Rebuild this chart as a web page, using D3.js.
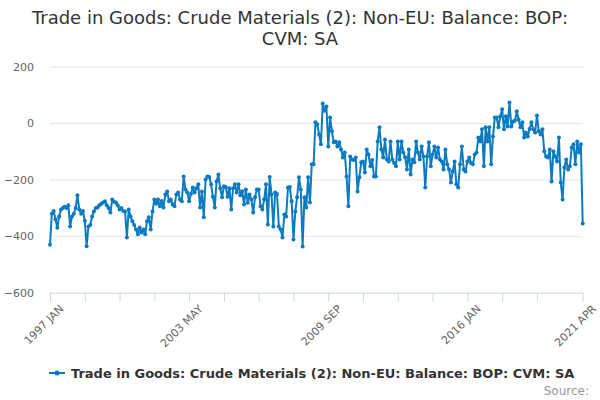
<!DOCTYPE html>
<html>
<head>
<meta charset="utf-8">
<script src="https://cdn.jsdelivr.net/npm/d3@7"></script>
<style>
  body { margin: 0; background: #fff; }
  svg { font-family: "DejaVu Sans", sans-serif; }
</style>
</head>
<body>
<div id="chart"></div>
<script>
// monthly values, 1997 JAN .. 2021 APR
const monthNames = ["JAN","FEB","MAR","APR","MAY","JUN","JUL","AUG","SEP","OCT","NOV","DEC"];
const startYear = 1997;
const values = [
  // 1997
  -430, -320, -310, -340, -370, -330, -305, -300, -295, -300, -290, -365,
  // 1998
  -330, -320, -300, -255, -305, -320, -310, -345, -435, -365, -360, -330,
  // 1999
  -312, -300, -298, -290, -285, -280, -276, -290, -300, -316, -270, -278,
  // 2000
  -280, -290, -305, -300, -310, -312, -404, -305, -330, -347, -360, -376,
  // 2001
  -393, -369, -387, -376, -393, -347, -333, -376, -312, -270, -285, -270,
  // 2002
  -294, -275, -298, -252, -241, -276, -270, -287, -294, -252, -245, -270,
  // 2003
  -276, -188, -234, -245, -276, -250, -227, -245, -230, -216, -298, -241,
  // 2004
  -333, -199, -188, -190, -216, -260, -298, -206, -181, -230, -262, -223,
  // 2005
  -225, -260, -230, -305, -230, -216, -245, -216, -255, -240, -287, -234,
  // 2006
  -281, -252, -270, -316, -262, -234, -234, -294, -305, -270, -216, -358,
  // 2007
  -190, -252, -365, -245, -250, -365, -376, -404, -323, -330, -227, -225,
  // 2008
  -276, -411, -312, -262, -191, -234, -436, -262, -298, -191, -280, -145,
  // 2009
  -145, 4, -4, -39, -74, 71, 45, 60, -82, 21, -28, -67,
  // 2010
  -64, -82, -67, -92, -121, -103, -188, -294, -117, -128, -130, -121,
  // 2011
  -241, -191, -138, -135, -174, -92, -110, -152, -130, -188, -188, -64,
  // 2012
  -14, -92, -121, -57, -128, -135, -64, -128, -140, -152, -64, -128,
  // 2013
  -64, -103, -120, -163, -92, -181, -128, -138, -64, -103, -128, -82,
  // 2014
  -117, -227, -117, -67, -152, -110, -82, -121, -85, -128, -135, -163,
  // 2015
  -92, -145, -163, -209, -170, -135, -216, -227, -145, -82, -163, -170,
  // 2016
  -135, -121, -140, -145, -110, -103, -50, -64, -21, -152, -14, -64,
  // 2017
  -14, -145, -46, 21, 21, -14, 25, 50, -21, 25, -11, 74,
  // 2018
  -11, 7, 10, 43, 14, -14, 4, -50, -32, -46, -20, 4,
  // 2019
  -21, -32, 28, -28, -39, -21, -99, -117, -121, -92, -206, -99,
  // 2020
  -117, -135, -50, -209, -270, -156, -128, -163, -152, -85, -74, -145,
  // 2021
  -64, -103, -74, -355
];
const yTicks = [200, 0, -200, -400, -600];
const seriesName = "Trade in Goods: Crude Materials (2): Non-EU: Balance: BOP: CVM: SA";
const titleLines = ["Trade in Goods: Crude Materials (2): Non-EU: Balance: BOP:", "CVM: SA"];

// label for month index
function monthLabel(i) {
  return (startYear + Math.floor(i / 12)) + " " + monthNames[i % 12];
}

const width = 600;
const height = 400;
const plotLeft = 50, plotRight = 582.7, plotTop = 67, plotBottom = 292.7;
const lineColour = "#0b7bc1";

const svg = d3.select("#chart").append("svg")
  .attr("width", width)
  .attr("height", height);

const x = d3.scaleLinear().domain([0, values.length - 1]).range([plotLeft, plotRight]);
const y = d3.scaleLinear().domain([-600, 200]).range([plotBottom, plotTop]);

// title
svg.append("text")
  .attr("x", width / 2)
  .attr("y", 24)
  .attr("text-anchor", "middle")
  .attr("font-size", "18px")
  .attr("fill", "#333")
  .selectAll("tspan")
  .data(titleLines)
  .enter().append("tspan")
  .attr("x", width / 2)
  .attr("dy", (d, i) => i === 0 ? 0 : 21)
  .text(d => d);

// grid lines
svg.append("g")
  .selectAll("line")
  .data(yTicks.filter(d => d !== -600))
  .enter().append("line")
  .attr("x1", plotLeft)
  .attr("x2", plotRight)
  .attr("y1", d => y(d))
  .attr("y2", d => y(d))
  .attr("stroke", "#e6e6e6")
  .attr("stroke-width", 1);

// y axis labels
const yAxis = svg.append("g")
  .attr("transform", `translate(${plotLeft},0)`)
  .call(d3.axisLeft(y).tickValues(yTicks).tickSize(0).tickPadding(16));
yAxis.select(".domain").remove();
yAxis.selectAll("text")
  .attr("font-family", "DejaVu Sans, sans-serif")
  .attr("font-size", "11px")
  .attr("fill", "#666");

// x axis: ticks every 19 months, label every 4th tick and the last month
const last = values.length - 1;
const xTickVals = d3.range(0, last - 10, 19).concat([last]);
const xLabelVals = xTickVals.filter((d, i) => i % 4 === 0 || d === last);
const xAxis = svg.append("g")
  .attr("transform", `translate(0,${plotBottom})`)
  .call(d3.axisBottom(x).tickValues(xTickVals).tickSize(9)
    .tickFormat(d => xLabelVals.includes(d) ? monthLabel(d) : ""));
xAxis.select(".domain")
  .attr("stroke", "#ccd6eb")
  .attr("d", `M${plotLeft},0.5H${plotRight}`);
xAxis.selectAll(".tick line").attr("stroke", "#ccd6eb");
xAxis.selectAll("text")
  .attr("font-family", "DejaVu Sans, sans-serif")
  .attr("font-size", "11px")
  .attr("fill", "#666")
  .attr("text-anchor", "end")
  .attr("dy", "0.3em")
  .attr("transform", "translate(3,6) rotate(-45)");

// line
const line = d3.line()
  .x((d, i) => x(i))
  .y(d => y(d));

svg.append("path")
  .datum(values)
  .attr("fill", "none")
  .attr("stroke", lineColour)
  .attr("stroke-width", 2)
  .attr("stroke-linejoin", "round")
  .attr("d", line);

svg.append("g")
  .selectAll("circle")
  .data(values)
  .enter().append("circle")
  .attr("cx", (d, i) => x(i))
  .attr("cy", d => y(d))
  .attr("r", 2)
  .attr("fill", lineColour);

// legend
const legend = svg.append("g").attr("transform", "translate(0,373)");
legend.append("line")
  .attr("x1", 49).attr("x2", 65)
  .attr("y1", 0).attr("y2", 0)
  .attr("stroke", lineColour)
  .attr("stroke-width", 2);
legend.append("circle")
  .attr("cx", 57).attr("cy", 0).attr("r", 2.5)
  .attr("fill", lineColour);
legend.append("text")
  .attr("x", 71)
  .attr("y", 5)
  .attr("font-size", "13px")
  .attr("font-weight", "bold")
  .attr("fill", "#333")
  .text(seriesName);

// credits
svg.append("text")
  .attr("x", 589)
  .attr("y", 395)
  .attr("text-anchor", "end")
  .attr("font-size", "12px")
  .attr("fill", "#999")
  .text("Source:");
</script>
</body>
</html>
